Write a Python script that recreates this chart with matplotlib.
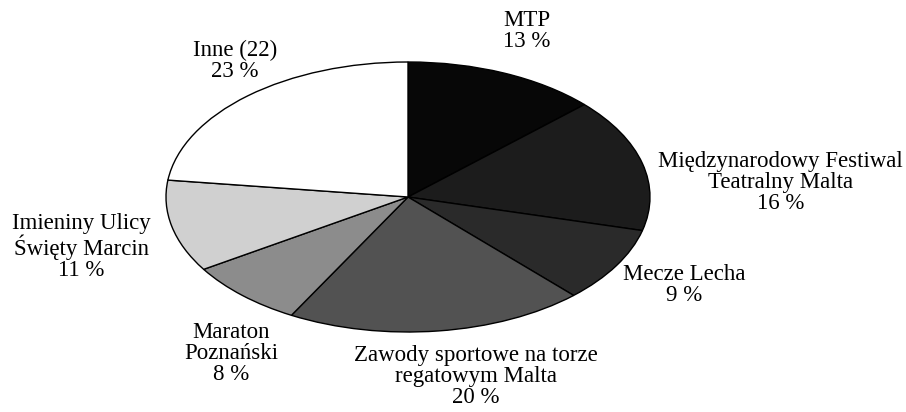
import matplotlib
matplotlib.use("Agg")
import matplotlib.pyplot as plt

# data
labels = [
    "MTP",
    "Międzynarodowy Festiwal\nTeatralny Malta",
    "Mecze Lecha",
    "Zawody sportowe na torze\nregatowym Malta",
    "Maraton\nPoznański",
    "Imieniny Ulicy\nŚwięty Marcin",
    "Inne (22)",
]
shares = [13, 16, 9, 20, 8, 11, 23]
colors = ["#070707", "#1c1c1c", "#2a2a2a", "#525252", "#8c8c8c", "#d0d0d0", "#ffffff"]

# label centres in axes data units (pie spans -1..1 both ways, stretched to an ellipse)
label_pos = [
    (0.49, 1.23),
    (1.54, 0.11),
    (1.14, -0.65),
    (0.28, -1.33),
    (-0.73, -1.16),
    (-1.35, -0.37),
    (-0.715, 1.01),
]

plt.rcParams["font.family"] = ["Liberation Serif", "DejaVu Serif"]

fig = plt.figure(figsize=(9.06, 4.12), dpi=100)
ax = fig.add_axes([166 / 906, 80 / 412, 484 / 906, 270 / 412])

ax.pie(shares, colors=colors, startangle=90, counterclock=False,
       wedgeprops=dict(edgecolor="black", linewidth=1.0))
ax.set_aspect("auto")
ax.set_xlim(-1, 1)
ax.set_ylim(-1, 1)
ax.axis("off")

for lab, val, (x, y) in zip(labels, shares, label_pos):
    ax.text(x, y, f"{lab}\n{val} %", ha="center", va="center",
            fontsize=16.5, linespacing=1.0, clip_on=False)

plt.savefig("out.png", dpi=100)
